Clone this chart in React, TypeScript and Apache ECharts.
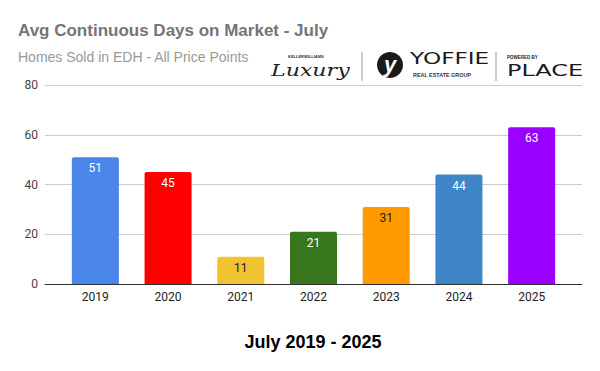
import React, { useEffect, useRef } from "react";
import * as echarts from "echarts";

const years = ["2019", "2020", "2021", "2022", "2023", "2024", "2025"];
const days = [51, 45, 11, 21, 31, 44, 63];
const barColors = ["#4a86e8", "#ff0000", "#f1c232", "#38761d", "#ff9900", "#3d85c6", "#9900ff"];
const labelColors = ["#ffffff", "#ffffff", "#222222", "#ffffff", "#222222", "#ffffff", "#ffffff"];

export default function App() {
  const ref = useRef<HTMLDivElement>(null);
  useEffect(() => {
    if (!ref.current) return;
    const chart = echarts.init(ref.current, null, { renderer: "svg" });
    const font = "Roboto, Arial, sans-serif";
    chart.setOption({
      animation: false,
      backgroundColor: "#ffffff",
      grid: [
        { left: 45, right: 18, top: 85, bottom: 87 },
        { left: 59, right: 32, top: 85, bottom: 87 },
      ],
      xAxis: [
        {
          gridIndex: 0, type: "category", data: years,
          axisLine: { show: true, lineStyle: { color: "#333333", width: 1 } },
          axisTick: { show: false }, axisLabel: { show: false }, splitLine: { show: false },
        },
        {
          gridIndex: 1, type: "category", data: years,
          axisLine: { show: false }, axisTick: { show: false },
          axisLabel: { color: "#222222", fontSize: 12, fontFamily: font, margin: 7 },
        },
      ],
      yAxis: [
        {
          gridIndex: 0, type: "value", min: 0, max: 80, interval: 20,
          axisLine: { show: false }, axisTick: { show: false },
          axisLabel: { color: "#444444", fontSize: 12, fontFamily: font, margin: 7 },
          splitLine: { lineStyle: { color: "#cccccc", width: 1 } },
        },
        {
          gridIndex: 1, type: "value", min: 0, max: 80, interval: 20,
          axisLine: { show: false }, axisTick: { show: false }, axisLabel: { show: false },
          splitLine: { show: false },
        },
      ],
      series: [
        {
          type: "bar", xAxisIndex: 1, yAxisIndex: 1, barWidth: 47,
          z: 1,
          data: days.map((v, i) => ({
            value: v,
            itemStyle: { color: barColors[i], borderRadius: [2, 2, 0, 0] },
            label: { color: labelColors[i] },
          })),
          label: {
            show: true, position: "insideTop", distance: 5,
            fontSize: 12, fontFamily: font,
          },
        },
      ],
      graphic: [
        {
          type: "text", left: 18, top: 22,
          style: { text: "Avg Continuous Days on Market - July", fill: "#757575", font: "bold 17px Arial, 'Liberation Sans', sans-serif" },
        },
        {
          type: "text", left: 18, top: 50,
          style: { text: "Homes Sold in EDH - All Price Points", fill: "#999999", font: "14px Arial, 'Liberation Sans', sans-serif" },
        },
        {
          type: "text", x: 288, y: 56,
          style: { text: "KELLERWILLIAMS", fill: "#333", font: "bold 4px Arial, sans-serif", verticalAlign: "middle" },
        },
        {
          type: "text", x: 271, y: 70, scaleX: 1.3,
          style: { text: "Luxury", fill: "#222", font: "italic 17px 'DejaVu Serif', serif", verticalAlign: "middle" },
        },
        { type: "line", shape: { x1: 362, y1: 52, x2: 362, y2: 81 }, style: { stroke: "#999", lineWidth: 1 } },
        { type: "circle", shape: { cx: 390, cy: 65, r: 13 }, style: { fill: "#1a1a1a" } },
        {
          type: "text", x: 390, y: 64,
          style: { text: "y", fill: "#ffffff", font: "bold italic 22px Arial, sans-serif", align: "center", verticalAlign: "middle" },
        },
        {
          type: "text", x: 410, y: 59, scaleX: 1.45,
          style: { text: "YOFFIE", fill: "#1a1a1a", font: "16px 'DejaVu Sans', sans-serif", verticalAlign: "middle" },
        },
        {
          type: "text", x: 413, y: 76, scaleX: 1.2,
          style: { text: "REAL ESTATE GROUP", fill: "#333", font: "bold 4.5px Arial, sans-serif", verticalAlign: "middle" },
        },
        { type: "line", shape: { x1: 496, y1: 52, x2: 496, y2: 81 }, style: { stroke: "#999", lineWidth: 1 } },
        {
          type: "text", x: 507, y: 57,
          style: { text: "POWERED BY", fill: "#222", font: "bold 4.5px Arial, sans-serif", verticalAlign: "middle" },
        },
        {
          type: "text", x: 507, y: 71, scaleX: 1.5,
          style: { text: "PLACE", fill: "#1a1a1a", font: "16px 'DejaVu Sans', sans-serif", verticalAlign: "middle" },
        },
        {
          type: "text", x: 313, y: 342,
          style: { text: "July 2019 - 2025", fill: "#000000", font: "bold 18px Arial, 'Liberation Sans', sans-serif", align: "center", verticalAlign: "middle" },
        },
      ],
    });
    return () => chart.dispose();
  }, []);
  return <div ref={ref} style={{ width: 600, height: 371, position: "fixed", left: 0, top: 0 }} />;
}
